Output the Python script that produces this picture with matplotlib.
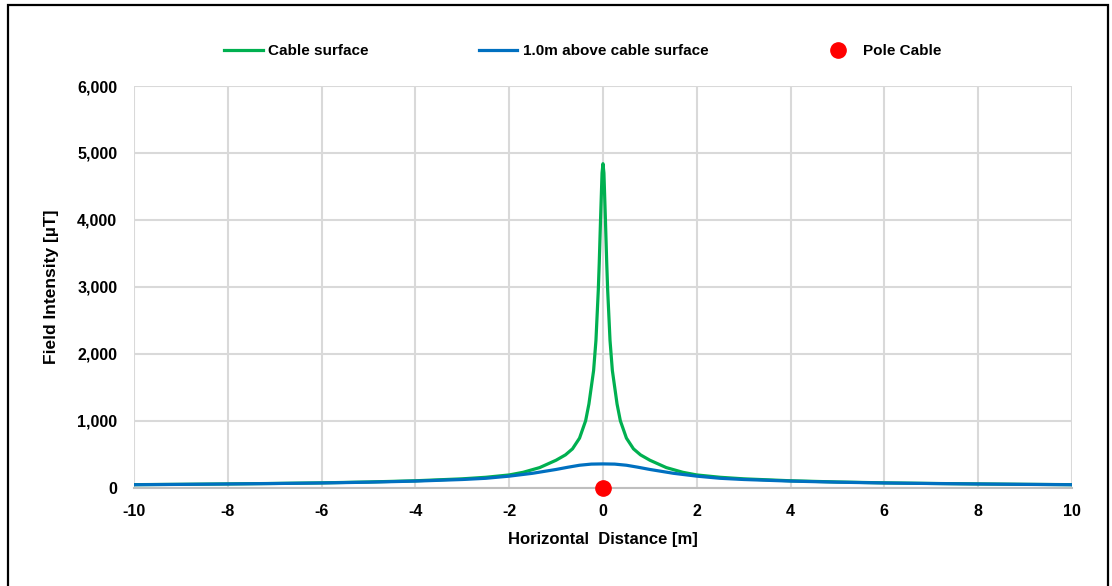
import matplotlib.pyplot as plt
from matplotlib.patches import Rectangle
from matplotlib.ticker import FuncFormatter

# values
x_green = [-10, -9, -8, -7, -6, -5, -4, -3, -2.5, -2, -1.7, -1.35, -1.0, -0.8, -0.65, -0.5,
           -0.37, -0.3, -0.25, -0.2, -0.15, -0.1, -0.08, -0.05, -0.02, 0,
           0.02, 0.05, 0.08, 0.1, 0.15, 0.2, 0.25, 0.3, 0.37, 0.5, 0.65, 0.8, 1.0, 1.35,
           1.7, 2, 2.5, 3, 4, 5, 6, 7, 8, 9, 10]
y_green = [45, 50, 56, 63, 72, 85, 103, 132, 155, 190, 230, 300, 410, 490, 580, 740,
           1000, 1250, 1500, 1750, 2200, 2950, 3350, 4050, 4700, 4840,
           4700, 4050, 3350, 2950, 2200, 1750, 1500, 1250, 1000, 740, 580, 490, 410, 300,
           230, 190, 155, 132, 103, 85, 72, 63, 56, 50, 45]

x_blue = [-10, -9, -8, -7, -6, -5, -4, -3, -2.5, -2, -1.5, -1, -0.75, -0.5, -0.25, 0,
          0.25, 0.5, 0.75, 1, 1.5, 2, 2.5, 3, 4, 5, 6, 7, 8, 9, 10]
y_blue = [44, 49, 55, 62, 70, 82, 98, 122, 140, 172, 215, 272, 305, 335, 352, 355,
          352, 335, 305, 272, 215, 172, 140, 122, 98, 82, 70, 62, 55, 49, 44]

pole_x = [0]
pole_y = [0]

labels = ['Cable surface', '1.0m above cable surface', 'Pole Cable']

plt.rcParams['font.family'] = ['Liberation Sans', 'DejaVu Sans']
plt.rcParams['font.weight'] = 'bold'
plt.rcParams['axes.unicode_minus'] = False

fig = plt.figure(figsize=(11.12, 5.86), dpi=100)
ax = fig.add_axes([0.1205, 0.1678, 0.8435, 0.6854])

l1, = ax.plot(x_green, y_green, color='#00B050', lw=2.3, label=labels[0])
l2, = ax.plot(x_blue, y_blue, color='#0070C0', lw=2.3, label=labels[1])
l3, = ax.plot(pole_x, pole_y, 'o', color='#FF0000', ms=11, clip_on=False, zorder=5,
              label=labels[2])

ax.set_xlim(-10, 10)
ax.set_ylim(0, 6000)
ax.set_xticks(range(-10, 11, 2))
ax.set_yticks(range(0, 6001, 1000))
ax.yaxis.set_major_formatter(FuncFormatter(lambda v, p: '{:,.0f}'.format(v)))
ax.grid(True, color='#D9D9D9', lw=1.5)
ax.set_axisbelow(True)
for s in ['top', 'right', 'left']:
    ax.spines[s].set_visible(False)
ax.spines['bottom'].set_color('#BFBFBF')
ax.spines['bottom'].set_linewidth(1.5)
ax.tick_params(length=0, labelsize=11.5)
ax.tick_params(axis='x', pad=12)
ax.tick_params(axis='y', pad=12)
for t in ax.get_xticklabels() + ax.get_yticklabels():
    t.set_fontweight('bold')

ax.set_xlabel('Horizontal  Distance [m]', fontsize=12, fontweight='bold', labelpad=9)
ax.set_ylabel('Field Intensity [µT]', fontsize=12.5, fontweight='bold', labelpad=13)

fig.legend(handles=[l1, l2, l3], loc='center', bbox_to_anchor=(0.524, 0.9125), ncol=3,
           frameon=False, fontsize=11, columnspacing=7.25, handlelength=2.5,
           handletextpad=0.35)

fig.patches.append(Rectangle((8 / 1112, -0.05), 1100 / 1112, 1.05 - 5 / 586,
                             transform=fig.transFigure, fill=False, ec='black', lw=1.6))

fig.savefig('out.png', dpi=100)
